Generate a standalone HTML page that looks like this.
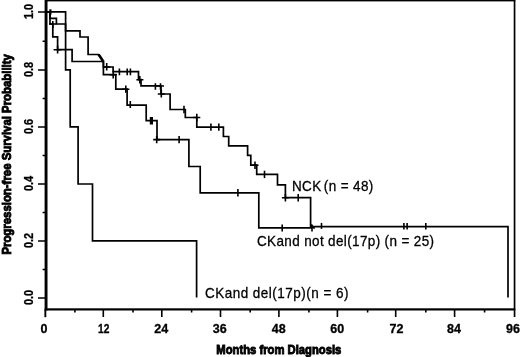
<!DOCTYPE html>
<html><head><meta charset="utf-8"><style>
html,body{margin:0;padding:0;background:#fff;}
body{width:520px;height:357px;overflow:hidden;}
svg{display:block;will-change:transform;}
text{font-family:"Liberation Sans",sans-serif;fill:#000;stroke:#000;stroke-width:0.3px;}
.b{stroke-width:0.9px;}
.b{font-weight:bold;}
</style></head><body>
<svg width="520" height="357" viewBox="0 0 520 357">
<rect x="0" y="0" width="520" height="357" fill="#fff"/>
<!-- frame -->
<g fill="#000">
<rect x="45" y="0" width="470.3" height="1.4"/>
<rect x="513.7" y="0" width="1.7" height="317"/>
<rect x="44.6" y="0" width="2.9" height="310.5"/>
<rect x="44.4" y="310" width="1.9" height="7.2"/>
<rect x="44.6" y="308.3" width="470.7" height="2.2"/>
</g>
<!-- ticks -->
<g stroke="#000" stroke-width="1.6" fill="none">
<path d="M38,12 H46 M38,70 H46 M38,127 H46 M38,184 H46 M38,241 H46 M38,298 H46"/>
<path d="M42.6,41.2 H46 M42.6,98.5 H46 M42.6,155.5 H46 M42.6,212.5 H46 M42.6,269.5 H46"/>
<path d="M103.3,309 V317 M161.8,309 V317 M220.5,309 V317 M278.9,309 V317 M337.4,309 V317 M395.7,309 V317 M454.6,309 V317"/>
<path d="M74.9,309 V312.6 M133,309 V312.6 M191.6,309 V312.6 M250.2,309 V312.6 M308.9,309 V312.6 M367.6,309 V312.6 M425.8,309 V312.6 M484.6,309 V312.6"/>
</g>
<!-- curves -->
<g fill="none" stroke="#000" stroke-width="1.7" stroke-linejoin="miter" stroke-linecap="square">
<!-- CK del -->
<path d="M46,11.8 H65.6 V69.8 H70.2 V126.9 H78.1 V184 H92.5 V240.9 H196.6 V296.6"/>
<!-- CK not del -->
<path d="M46,11.8 H50 V24 H52.8 V36.9 H57.6 V49.7 H72.1 V61.5 H103.4 V74.7 H115.8 V89.2 H127.1 V105.1 H146.2 V120.7 H157 V139.6 H188.9 V166.5 H200.2 V192.8 H258.8 V227.9 H311.6"/>
<!-- NCK -->
<path d="M46,11.8 H50 V18.4 H56.4 V24 H65.6 V30.8 H80 V37 H88.1 V54.5 H98.4 L100.2,56.8 L101.4,58.6 L103,61.2 H103.4 V67 H113.1 V71.6 H138.5 V79.7 H141 V85.8 H161 V94 H170.1 V109.5 H185.3 V117.5 H196.8 V127.1 H223.4 V136.5 H228.7 V145.9 H247.6 V155.3 H250.8 V165.2 H256.7 V174.4 H277.5 V184.9 H285.4 V197.7 H310.6 V226.6 H508 V296.6"/>
</g>
<!-- censor marks -->
<path d="M98.6,54.6 L103,61" stroke="#000" stroke-width="2.6" fill="none"/>
<g fill="none" stroke="#000" stroke-width="1.6">
<path d="M50.4,9.3 V14.6" stroke-width="2.2"/>
<path d="M52.8,21 V28 M49,24 H56.5"/>
<path d="M57.6,45.7 V53.5 M53.6,49.7 H61.5"/>
<path d="M106.7,63 V70.4 M103,67 H110.5"/>
<path d="M113.2,71.2 V78.5 M109.6,74.7 H116.8"/>
<path d="M119.4,68.6 V75.2 M127.2,68.6 V75.2 M130.4,68.6 V75.2"/>
<path d="M139.8,76 V83.4 M136.4,79.7 H143.4"/>
<path d="M155.4,83.2 V89.8 M160.5,83.2 V89.8 M156.6,86 H164"/>
<path d="M161.3,89.8 V97.6 M157.8,94 H164.8"/>
<path d="M125.8,85.4 V92.8 M122.3,89.2 H129.4"/>
<path d="M130.3,101 V108"/>
<path d="M150.6,117 V124.4 M152.2,117 V124.4"/>
<path d="M156.7,136 V143.3 M153.2,139.6 H160.2"/>
<path d="M179.1,136 V143.3"/>
<path d="M184,105.8 V113.2"/>
<path d="M196.8,113.8 V121.2 M193.2,117.5 H200.3"/>
<path d="M210.9,123.4 V130.8 M218.8,123.4 V130.8"/>
<path d="M237.9,189.1 V196.5"/>
<path d="M255,161.5 V168.9 M251.5,165.2 H258.5"/>
<path d="M264.5,170.7 V178.1"/>
<path d="M285.4,194 V201.4 M281.9,197.7 H288.9"/>
<path d="M298.2,194 V201.4"/>
<path d="M282.2,224.4 V231.6"/>
<path d="M312,224.5 V231.6 M310.8,224.5 L314.6,228.6" />
<path d="M321.5,222.9 V228.9"/>
<path d="M403.9,223 V229.6 M407.1,223 V229.6 M425.8,223 V229.6"/>
</g>
<!-- legend labels -->
<text transform="translate(292.0,191.3) scale(0.9,1)" font-size="15" textLength="90.4" lengthAdjust="spacing">NCK <tspan dx="-2.2">(n = 48)</tspan></text>
<text transform="translate(257.0,246.3) scale(0.9,1)" font-size="15" textLength="196.7" lengthAdjust="spacing">CKand not del(17p) (n = 25)</text>
<text transform="translate(205.0,298) scale(0.9,1)" font-size="15" textLength="159.4" lengthAdjust="spacing">CKand del(17p)(n = 6)</text>
<!-- x tick labels -->
<g class="b" font-size="12.5" text-anchor="middle">
<text x="44" y="333.3">0</text>
<text x="103.7" y="333.3" textLength="11.4" lengthAdjust="spacingAndGlyphs">12</text>
<text x="161.2" y="333.3">24</text>
<text x="219.8" y="333.3">36</text>
<text x="278.7" y="333.3">48</text>
<text x="337.3" y="333.3">60</text>
<text x="396.4" y="333.3">72</text>
<text x="454" y="333.3">84</text>
<text x="513" y="333.3">96</text>
</g>
<!-- y tick labels -->
<g class="b" font-size="12.5" text-anchor="middle">
<text transform="translate(33,11.5) rotate(-90)" textLength="15.2" lengthAdjust="spacingAndGlyphs">1.0</text>
<text transform="translate(33,69.5) rotate(-90)" textLength="15.2" lengthAdjust="spacingAndGlyphs">0.8</text>
<text transform="translate(33,126.5) rotate(-90)" textLength="15.2" lengthAdjust="spacingAndGlyphs">0.6</text>
<text transform="translate(33,183.5) rotate(-90)" textLength="15.2" lengthAdjust="spacingAndGlyphs">0.4</text>
<text transform="translate(33,240.5) rotate(-90)" textLength="15.2" lengthAdjust="spacingAndGlyphs">0.2</text>
<text transform="translate(33,297.5) rotate(-90)" textLength="15.2" lengthAdjust="spacingAndGlyphs">0.0</text>
</g>
<!-- axis titles -->
<text class="b" x="216.3" y="353.6" font-size="12.5" textLength="125" lengthAdjust="spacingAndGlyphs">Months from Diagnosis</text>
<text class="b" transform="translate(10.8,254.6) rotate(-90)" font-size="12.5" textLength="200.5" lengthAdjust="spacingAndGlyphs">Progression-free Survival Probability</text>
</svg>
</body></html>
